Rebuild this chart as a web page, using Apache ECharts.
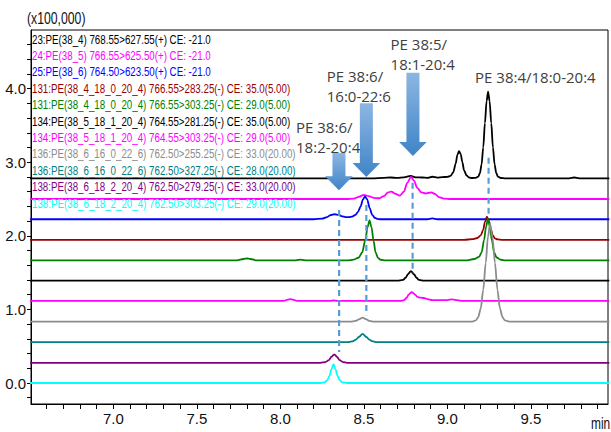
<!DOCTYPE html>
<html><head><meta charset="utf-8">
<script src="https://cdn.jsdelivr.net/npm/echarts@6/dist/echarts.min.js"></script>
<style>html,body{margin:0;padding:0;background:#fff}#c{width:611px;height:432px}</style>
</head><body><div id="c"></div>
<script>
// ---- data (time in min, intensity in x100,000) ----
const traceNames = [
  '23:PE(38_4) 768.55>627.55(+) CE: -21.0',
  '24:PE(38_5) 766.55>625.50(+) CE: -21.0',
  '25:PE(38_6) 764.50>623.50(+) CE: -21.0',
  '131:PE(38_4_18_0_20_4) 766.55>283.25(-) CE: 35.0(5.00)',
  '131:PE(38_4_18_0_20_4) 766.55>303.25(-) CE: 29.0(5.00)',
  '134:PE(38_5_18_1_20_4) 764.55>281.25(-) CE: 35.0(5.00)',
  '134:PE(38_5_18_1_20_4) 764.55>303.25(-) CE: 29.0(5.00)',
  '136:PE(38_6_16_0_22_6) 762.50>255.25(-) CE: 33.0(20.00)',
  '136:PE(38_6_16_0_22_6) 762.50>327.25(-) CE: 28.0(20.00)',
  '138:PE(38_6_18_2_20_4) 762.50>279.25(-) CE: 33.0(20.00)',
  '138:PE(38_6_18_2_20_4) 762.50>303.25(-) CE: 29.0(20.00)'
];
const traceColors = ['#000000','#ff00ff','#0000ff','#990000','#008000','#000000','#ff00ff','#8c8c8c','#008080','#800080','#00ffff'];
const traceOffsets = [2.78, 2.50, 2.225, 1.945, 1.665, 1.39, 1.115, 0.835, 0.555, 0.275, 0.0];

const trace23 = [[6.50,0],[8.55,0],[8.62,0.008],[8.66,0.012],[8.70,0.006],[8.74,0.015],[8.78,0.035],[8.81,0.015],[8.85,0.012],[8.88,0.008],[8.91,0.022],[8.94,0.01],[8.97,0.018],[9.00,0.02],[9.02,0.035],[9.035,0.08],[9.05,0.2],[9.06,0.32],[9.07,0.37],[9.08,0.33],[9.09,0.22],[9.10,0.11],[9.115,0.04],[9.13,0.012],[9.15,0.005],[9.17,0.008],[9.185,0.025],[9.195,0.07],[9.205,0.19],[9.215,0.42],[9.225,0.75],[9.235,1.05],[9.244,1.18],[9.253,1.05],[9.263,0.75],[9.273,0.42],[9.283,0.19],[9.293,0.07],[9.303,0.025],[9.32,0.005],[9.35,0],[9.73,0],[9.76,0.012],[9.79,0],[9.97,0]];
const trace24 = [[6.50,0],[8.40,0],[8.44,0.005],[8.47,0.03],[8.50,0.055],[8.53,0.04],[8.56,0.015],[8.59,0.01],[8.62,0.04],[8.645,0.09],[8.665,0.10],[8.69,0.07],[8.715,0.045],[8.74,0.10],[8.76,0.22],[8.783,0.30],[8.80,0.25],[8.82,0.15],[8.845,0.09],[8.87,0.075],[8.89,0.085],[8.905,0.09],[8.925,0.07],[8.95,0.025],[8.98,0.005],[9.02,0],[9.97,0]];
const trace25 = [[6.50,0],[8.20,0],[8.25,0.008],[8.28,0.03],[8.30,0.055],[8.325,0.068],[8.35,0.058],[8.37,0.04],[8.39,0.03],[8.41,0.028],[8.43,0.035],[8.45,0.06],[8.465,0.10],[8.48,0.17],[8.495,0.27],[8.507,0.31],[8.52,0.27],[8.535,0.15],[8.55,0.06],[8.565,0.02],[8.58,0.005],[8.60,0],[8.88,0],[8.91,0.012],[8.94,0],[9.97,0]];
const trace131a = [[6.50,0],[9.10,0],[9.15,0.01],[9.18,0.025],[9.20,0.06],[9.215,0.14],[9.225,0.24],[9.237,0.315],[9.248,0.26],[9.26,0.15],[9.272,0.06],[9.285,0.02],[9.30,0.006],[9.33,0],[9.97,0]];
const trace131b = [[6.50,0],[7.74,0],[7.78,0.02],[7.80,0.027],[7.82,0.02],[7.86,0],[8.08,0],[8.12,0.012],[8.16,0],[8.40,0],[8.44,0.012],[8.47,0.04],[8.49,0.11],[8.51,0.29],[8.522,0.45],[8.534,0.543],[8.546,0.45],[8.558,0.27],[8.57,0.11],[8.585,0.035],[8.60,0.01],[8.63,0],[9.12,0],[9.16,0.02],[9.19,0.05],[9.205,0.11],[9.22,0.28],[9.232,0.46],[9.243,0.565],[9.255,0.46],[9.267,0.27],[9.28,0.11],[9.295,0.04],[9.32,0.01],[9.35,0],[9.97,0]];
const trace134a = [[6.50,0],[8.70,0],[8.735,0.012],[8.75,0.04],[8.765,0.09],[8.782,0.13],[8.80,0.09],[8.815,0.04],[8.83,0.012],[8.86,0],[9.97,0]];
const trace134b = [[6.50,0],[8.02,0],[8.045,0.018],[8.06,0.025],[8.075,0.018],[8.10,0],[8.30,0],[8.32,0.006],[8.34,0],[8.72,0],[8.74,0.01],[8.755,0.04],[8.77,0.09],[8.787,0.12],[8.805,0.09],[8.82,0.055],[8.84,0.045],[8.86,0.04],[8.88,0.025],[8.91,0.012],[8.95,0.01],[9.00,0.012],[9.03,0.022],[9.06,0.01],[9.09,0],[9.97,0]];
const trace136a = [[6.50,0],[8.42,0],[8.45,0.008],[8.47,0.03],[8.493,0.054],[8.515,0.03],[8.535,0.008],[8.56,0],[9.15,0],[9.17,0.015],[9.185,0.06],[9.20,0.18],[9.215,0.43],[9.23,0.8],[9.243,1.15],[9.256,1.33],[9.27,1.15],[9.285,0.8],[9.30,0.43],[9.315,0.18],[9.33,0.06],[9.345,0.015],[9.37,0],[9.97,0]];
const trace136b = [[6.50,0],[8.40,0],[8.43,0.01],[8.45,0.03],[8.47,0.07],[8.493,0.113],[8.515,0.07],[8.535,0.03],[8.555,0.01],[8.58,0],[9.97,0]];
const trace138a = [[6.50,0],[8.24,0],[8.27,0.01],[8.29,0.035],[8.305,0.08],[8.323,0.113],[8.34,0.08],[8.355,0.035],[8.375,0.01],[8.40,0],[9.97,0]];
const trace138b = [[6.50,0],[8.24,0],[8.265,0.01],[8.28,0.035],[8.295,0.1],[8.305,0.18],[8.318,0.258],[8.33,0.19],[8.342,0.1],[8.355,0.04],[8.37,0.01],[8.40,0],[9.97,0]];
const traces = [trace23, trace24, trace25, trace131a, trace131b, trace134a, trace134b, trace136a, trace136b, trace138a, trace138b];

// axis ticks
const xLabelValues = [7.0, 7.5, 8.0, 8.5, 9.0, 9.5];
const xTickValues = [6.6,6.7,6.8,6.9,7.0,7.1,7.2,7.3,7.4,7.5,7.6,7.7,7.8,7.9,8.0,8.1,8.2,8.3,8.4,8.5,8.6,8.7,8.8,8.9,9.0,9.1,9.2,9.3,9.4,9.5,9.6,9.7,9.8,9.9];
const yLabelValues = [0.0, 1.0, 2.0, 3.0, 4.0];
const yTickValues = [-0.2,0.0,0.2,0.4,0.6,0.8,1.0,1.2,1.4,1.6,1.8,2.0,2.2,2.4,2.6,2.8,3.0,3.2,3.4,3.6,3.8,4.0,4.2,4.4,4.6];

// annotations
const dashX = [8.352, 8.515, 8.792, 9.247];
const dashTop = [2.35, 2.42, 2.72, 3.06];
const dashBottom = [0.42, 0.92, 1.49, 2.30];
const arrowX = [8.351, 8.515, 8.794];
const arrowTop = [3.125, 3.80, 4.216];
const arrowTip = [2.62, 2.80, 3.084];
const annTexts = ['PE 38:6/\n18:2-20:4', 'PE 38:6/\n16:0-22:6', 'PE 38:5/\n18:1-20:4', 'PE 38:4/18:0-20:4'];
const annX = [8.094, 8.278, 8.660, 9.166];
const annY = [3.618, 4.307, 4.742, 4.298];

// ---- chart ----
const SANS = '"Liberation Sans", Arial, sans-serif';
const chart = echarts.init(document.getElementById('c'), null, {renderer: 'svg', width: 611, height: 432});

const lineSeries = traces.map((d, i) => ({
  type: 'line',
  name: traceNames[i],
  data: d.map(p => [p[0], p[1] + traceOffsets[i]]),
  showSymbol: false,
  smooth: 0.3,
  smoothMonotone: 'x',
  lineStyle: {color: traceColors[i], width: 1.8},
  itemStyle: {color: traceColors[i]},
  silent: true,
  animation: false
}));

const arrowFill = new echarts.graphic.LinearGradient(0, 0, 0, 1, [
  {offset: 0, color: '#8db6e2'}, {offset: 1, color: '#3f84c7'}
]);

const dashSeries = {
  type: 'custom', silent: true, animation: false, z: 5,
  data: dashX.map((x, i) => [x, dashTop[i], dashBottom[i]]),
  renderItem: (params, api) => {
    const a = api.coord([api.value(0), api.value(1)]);
    const b = api.coord([api.value(0), api.value(2)]);
    return {type: 'line', shape: {x1: a[0], y1: a[1], x2: b[0], y2: b[1]},
      style: {stroke: '#5b9bd5', lineWidth: 2.2, lineDash: [6, 4]}};
  }
};

const arrowSeries = {
  type: 'custom', silent: true, animation: false, z: 6,
  data: arrowX.map((x, i) => [x, arrowTop[i], arrowTip[i]]),
  renderItem: (params, api) => {
    const t = api.coord([api.value(0), api.value(1)]);
    const p = api.coord([api.value(0), api.value(2)]);
    const cx = p[0], sw = 6.5, hw = 13.8, hh = 14;
    const hy = p[1] - hh;
    return {type: 'polygon', shape: {points: [[cx - sw, t[1]], [cx + sw, t[1]], [cx + sw, hy], [cx + hw, hy], [cx, p[1]], [cx - hw, hy], [cx - sw, hy]]},
      style: {fill: arrowFill}};
  }
};

const annSeries = {
  type: 'custom', silent: true, animation: false, z: 7,
  data: annX.map((x, i) => [x, annY[i]]),
  renderItem: (params, api) => {
    const p = api.coord([api.value(0), api.value(1)]);
    return {type: 'text', x: p[0], y: p[1],
      style: {text: annTexts[params.dataIndex], fill: '#404040', font: '15px "Open Sans", "Noto Sans", sans-serif',
        lineHeight: 20, align: 'left', verticalAlign: 'top'}};
  }
};

const legendGraphics = traceNames.map((n, i) => ({
  type: 'text', x: 32, y: 39 + i * 16.4, z: 10, scaleX: 0.75,
  style: {text: n, fill: traceColors[i], font: '13px ' + SANS, verticalAlign: 'middle', align: 'left'}
}));

chart.setOption({
  animation: false,
  backgroundColor: '#ffffff',
  grid: {left: 31, right: 3, top: 30, bottom: 28, show: true, borderColor: '#000', borderWidth: 1, containLabel: false, outerBoundsMode: 'none'},
  xAxis: {
    type: 'value', min: 6.507, max: 9.962,
    axisLine: {show: true, onZero: false, lineStyle: {color: '#000', width: 1}},
    axisTick: {show: true, customValues: xTickValues, length: 5, lineStyle: {color: '#000'}},
    axisLabel: {customValues: xLabelValues, formatter: v => v.toFixed(1), fontFamily: SANS, fontSize: 15, color: '#111', margin: 7},
    splitLine: {show: false}
  },
  yAxis: {
    type: 'value', min: -0.285, max: 4.796,
    axisLine: {show: true, onZero: false, lineStyle: {color: '#000', width: 1}},
    axisTick: {show: true, customValues: yTickValues, length: 4, lineStyle: {color: '#000'}},
    axisLabel: {customValues: yLabelValues, formatter: v => v.toFixed(1), fontFamily: SANS, fontSize: 15, color: '#111', margin: 5},
    splitLine: {show: false}
  },
  graphic: [
    {type: 'text', x: 27, y: 18, scaleX: 0.72, style: {text: '(x100,000)', fill: '#111', font: '17px ' + SANS, verticalAlign: 'middle'}},
    {type: 'text', x: 591, y: 423, scaleX: 0.7, style: {text: 'min', fill: '#111', font: '17px ' + SANS, verticalAlign: 'middle', align: 'left'}},
    ...legendGraphics
  ],
  series: [...lineSeries, dashSeries, arrowSeries, annSeries]
});
</script>
</body></html>
